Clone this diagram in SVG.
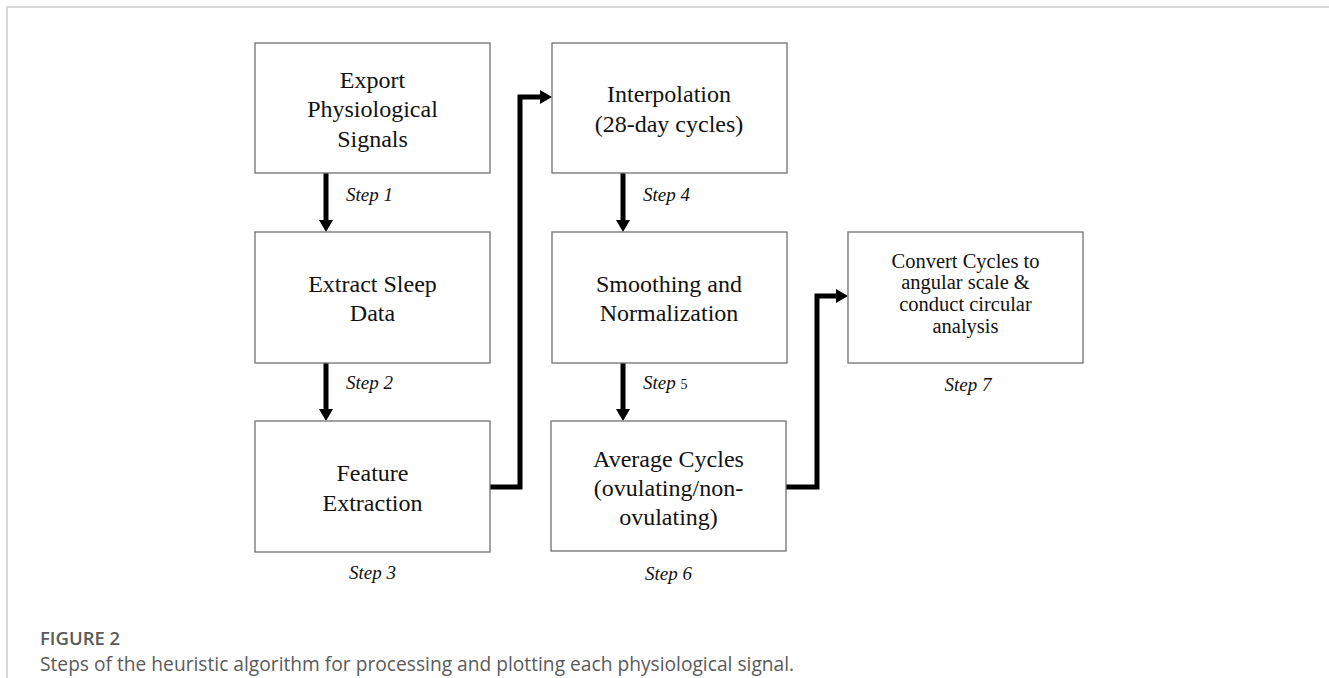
<svg xmlns="http://www.w3.org/2000/svg" width="1329" height="678" viewBox="0 0 1329 678">
  <style>
    .box { fill: #ffffff; stroke: #707070; stroke-width: 1.3; }
    .lbl { font-family: "Liberation Serif", "Times New Roman", serif; font-size: 24px; fill: #111; text-anchor: middle; }
    .lbl-sm { font-family: "Liberation Serif", "Times New Roman", serif; font-size: 20.5px; fill: #111; text-anchor: middle; }
    .step { font-family: "Liberation Serif", "Times New Roman", serif; font-size: 19px; font-style: italic; fill: #111; }
    .wire { fill: none; stroke: #000; stroke-width: 5; stroke-linejoin: miter; }
    .frame { fill: none; stroke: #cccccc; stroke-width: 1.5; }
    .cap-title { font-family: "Open Sans", "Noto Sans", sans-serif; font-size: 18.5px; font-weight: 600; fill: #5a5a5a; }
    .cap-text { font-family: "Open Sans", "Noto Sans", sans-serif; font-size: 19.2px; fill: #5a5a5a; }
  </style>
  <defs>
    <marker id="head" viewBox="0 0 12 14" refX="6" refY="7" markerWidth="12" markerHeight="14" markerUnits="userSpaceOnUse" orient="auto">
      <path d="M0,0 L12,7 L0,14 Z" fill="#000"/>
    </marker>
  </defs>

  <rect width="1329" height="678" fill="#ffffff"/>
  <path class="frame" d="M7,678 V7 H1329"/>

  <g id="connectors">
    <path class="wire" d="M326,173 V226" marker-end="url(#head)"/>
    <path class="wire" d="M326,363 V415" marker-end="url(#head)"/>
    <path class="wire" d="M623,173 V226" marker-end="url(#head)"/>
    <path class="wire" d="M623,363 V415" marker-end="url(#head)"/>
    <path class="wire" d="M490,487 H520 V97 H546" marker-end="url(#head)"/>
    <path class="wire" d="M786,487 H817 V296 H842" marker-end="url(#head)"/>
  </g>

  <g id="step1">
    <rect class="box" x="255" y="43" width="235" height="130"/>
    <text class="lbl" x="372.5" y="88">Export</text>
    <text class="lbl" x="372.5" y="117">Physiological</text>
    <text class="lbl" x="372.5" y="146.5">Signals</text>
    <text class="step" x="346" y="201">Step 1</text>
  </g>

  <g id="step2">
    <rect class="box" x="255" y="232" width="235" height="131"/>
    <text class="lbl" x="372.5" y="292">Extract Sleep</text>
    <text class="lbl" x="372.5" y="321">Data</text>
    <text class="step" x="346" y="389">Step 2</text>
  </g>

  <g id="step3">
    <rect class="box" x="255" y="421" width="235" height="131"/>
    <text class="lbl" x="372.5" y="481">Feature</text>
    <text class="lbl" x="372.5" y="510.5">Extraction</text>
    <text class="step" x="372.5" y="579" text-anchor="middle">Step 3</text>
  </g>

  <g id="step4">
    <rect class="box" x="552" y="43" width="235" height="130"/>
    <text class="lbl" x="669" y="102">Interpolation</text>
    <text class="lbl" x="669" y="131.5">(28-day cycles)</text>
    <text class="step" x="643" y="201">Step 4</text>
  </g>

  <g id="step5">
    <rect class="box" x="552" y="232" width="235" height="131"/>
    <text class="lbl" x="669" y="292">Smoothing and</text>
    <text class="lbl" x="669" y="321">Normalization</text>
    <text class="step" x="643" y="389">Step <tspan font-style="normal" font-size="14">5</tspan></text>
  </g>

  <g id="step6">
    <rect class="box" x="551" y="421" width="235" height="130"/>
    <text class="lbl" x="668.5" y="466.5">Average Cycles</text>
    <text class="lbl" x="668.5" y="495.5">(ovulating/non-</text>
    <text class="lbl" x="668.5" y="525">ovulating)</text>
    <text class="step" x="668.5" y="580" text-anchor="middle">Step 6</text>
  </g>

  <g id="step7">
    <rect class="box" x="848" y="232" width="235" height="131"/>
    <text class="lbl-sm" x="965.5" y="267.5">Convert Cycles to</text>
    <text class="lbl-sm" x="965.5" y="289">angular scale &amp;</text>
    <text class="lbl-sm" x="965.5" y="311">conduct circular</text>
    <text class="lbl-sm" x="965.5" y="333">analysis</text>
    <text class="step" x="968" y="391" text-anchor="middle">Step 7</text>
  </g>

  <g id="caption">
    <text class="cap-title" x="40" y="645">FIGURE 2</text>
    <text class="cap-text" x="40" y="671">Steps of the heuristic algorithm for processing and plotting each physiological signal.</text>
  </g>
</svg>
